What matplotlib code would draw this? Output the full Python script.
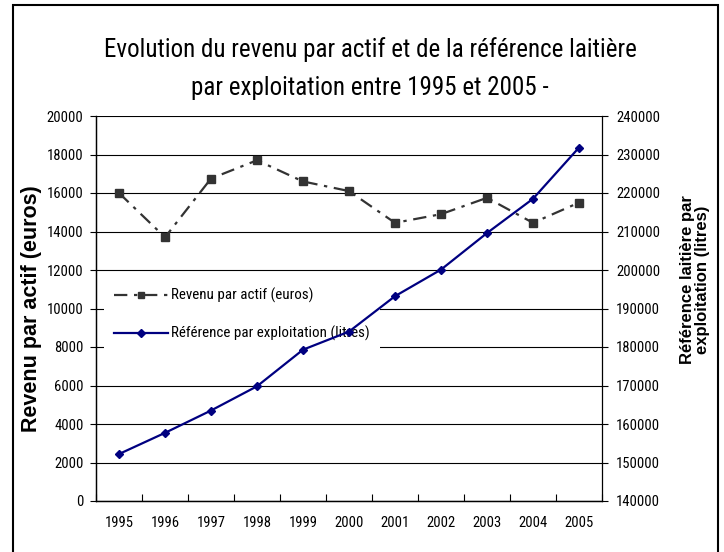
import matplotlib.pyplot as plt
import matplotlib.patches as patches
from matplotlib import font_manager
from matplotlib.lines import Line2D
import numpy as np

# Data
years = ["1995", "1996", "1997", "1998", "1999", "2000",
         "2001", "2002", "2003", "2004", "2005"]
revenu = [16000, 13700, 16750, 17700, 16600, 16100,
          14450, 14900, 15750, 14450, 15500]
reference = [152200, 157700, 163500, 169800, 179300, 184000,
             193200, 200100, 209600, 218500, 231800]

# Pick a narrow font if one is installed
installed = {f.name for f in font_manager.fontManager.ttflist}
narrow = "DejaVu Sans"
for cand in ["Liberation Sans Narrow", "Arial Narrow", "Roboto Condensed",
             "Open Sans Condensed", "DejaVu Sans Condensed", "Noto Sans Condensed"]:
    if cand in installed:
        narrow = cand
        break
NARROW = {"family": narrow, "stretch": "condensed"}
BOLD = ["Liberation Sans", "DejaVu Sans"]

W, H = 724, 552
fig = plt.figure(figsize=(W / 100, H / 100), dpi=100)

# Plot area in pixels: x 96..602, y 116..501
left, right, top, bottom = 96, 602, 116, 501
ax1 = fig.add_axes([left / W, 1 - bottom / H, (right - left) / W, (bottom - top) / H])
ax2 = ax1.twinx()

x = np.arange(len(years))

# Revenue (left axis)
ax1.plot(x, revenu, color="#333333", linewidth=1.6,
         linestyle=(0, (6, 3, 1.5, 3)), marker="s", markersize=5.5,
         zorder=3)
ax1.set_ylim(0, 20000)
ax1.set_yticks(np.arange(0, 20001, 2000))
ax1.set_xlim(-0.5, len(years) - 0.5)
ax1.set_xticks(x)
ax1.set_xticklabels(years)
ax1.set_xticks(np.arange(-0.5, len(years)), minor=True)
ax1.tick_params(axis="x", which="major", length=0, pad=11)
ax1.tick_params(axis="x", which="minor", direction="in", length=5, width=0.8)
ax1.tick_params(axis="y", direction="out", length=4, width=0.8, pad=5)
ax1.grid(axis="y", color="black", linewidth=0.8)
ax1.set_axisbelow(True)

# Reference (right axis)
ax2.plot(x, reference, color="#000080", linewidth=1.6,
         marker="D", markersize=4, zorder=3)
ax2.set_ylim(140000, 240000)
ax2.set_yticks(np.arange(140000, 240001, 10000))
ax2.tick_params(axis="y", direction="out", length=4, width=0.8, pad=6)

for ax in (ax1, ax2):
    for s in ("top", "right", "left", "bottom"):
        ax.spines[s].set_linewidth(0.9)
    ax.spines["top"].set_visible(False)
    for lab in ax.get_xticklabels() + ax.get_yticklabels():
        lab.set_family(narrow)
        lab.set_stretch("condensed")
        lab.set_fontsize(10.5)
ax1.spines["right"].set_visible(False)

# Axis labels
ax1.set_ylabel("Revenu par actif (euros)", fontsize=15.5, fontweight="bold",
               family=BOLD)
ax1.yaxis.set_label_coords(-0.107, 0.5)
ax2.set_ylabel("Référence laitière par\nexploitation (litres)", fontsize=12,
               fontweight="bold", family=BOLD, rotation=90, linespacing=1.0)
ax2.yaxis.set_label_coords(1.154, 0.574)

# Legend sits under the reference line (as in the original)
handles = [
    Line2D([], [], color="#333333", linewidth=1.6,
           linestyle=(0, (6, 3, 1.5, 3)), marker="s", markersize=5),
    Line2D([], [], color="#000080", linewidth=1.6, marker="D", markersize=4),
]
labels = ["Revenu par actif (euros)", "Référence par exploitation (litres)"]
leg = ax1.legend(handles, labels, loc="upper left",
                 bbox_to_anchor=(0.0, 0.6), frameon=True, fancybox=False,
                 edgecolor="none", facecolor="white", framealpha=1,
                 prop={"family": narrow, "stretch": "condensed", "size": 10.8},
                 handlelength=3.6, handletextpad=0.2, labelspacing=1.5,
                 borderpad=0.7)
leg.set_zorder(2)

# Title
fig.text(370 / W, 1 - 50 / H,
         "Evolution du revenu par actif et de la référence laitière",
         ha="center", va="center", fontsize=18, **NARROW)
fig.text(370 / W, 1 - 88 / H, "par exploitation entre 1995 et 2005 -",
         ha="center", va="center", fontsize=18, **NARROW)

# Outer frame
fig.patches.append(patches.Rectangle(
    (13 / W, -0.05), (718 - 13) / W, 1 - 5 / H + 0.05,
    transform=fig.transFigure, fill=False, edgecolor="black", linewidth=1.5))

fig.savefig("out.png", dpi=100)
